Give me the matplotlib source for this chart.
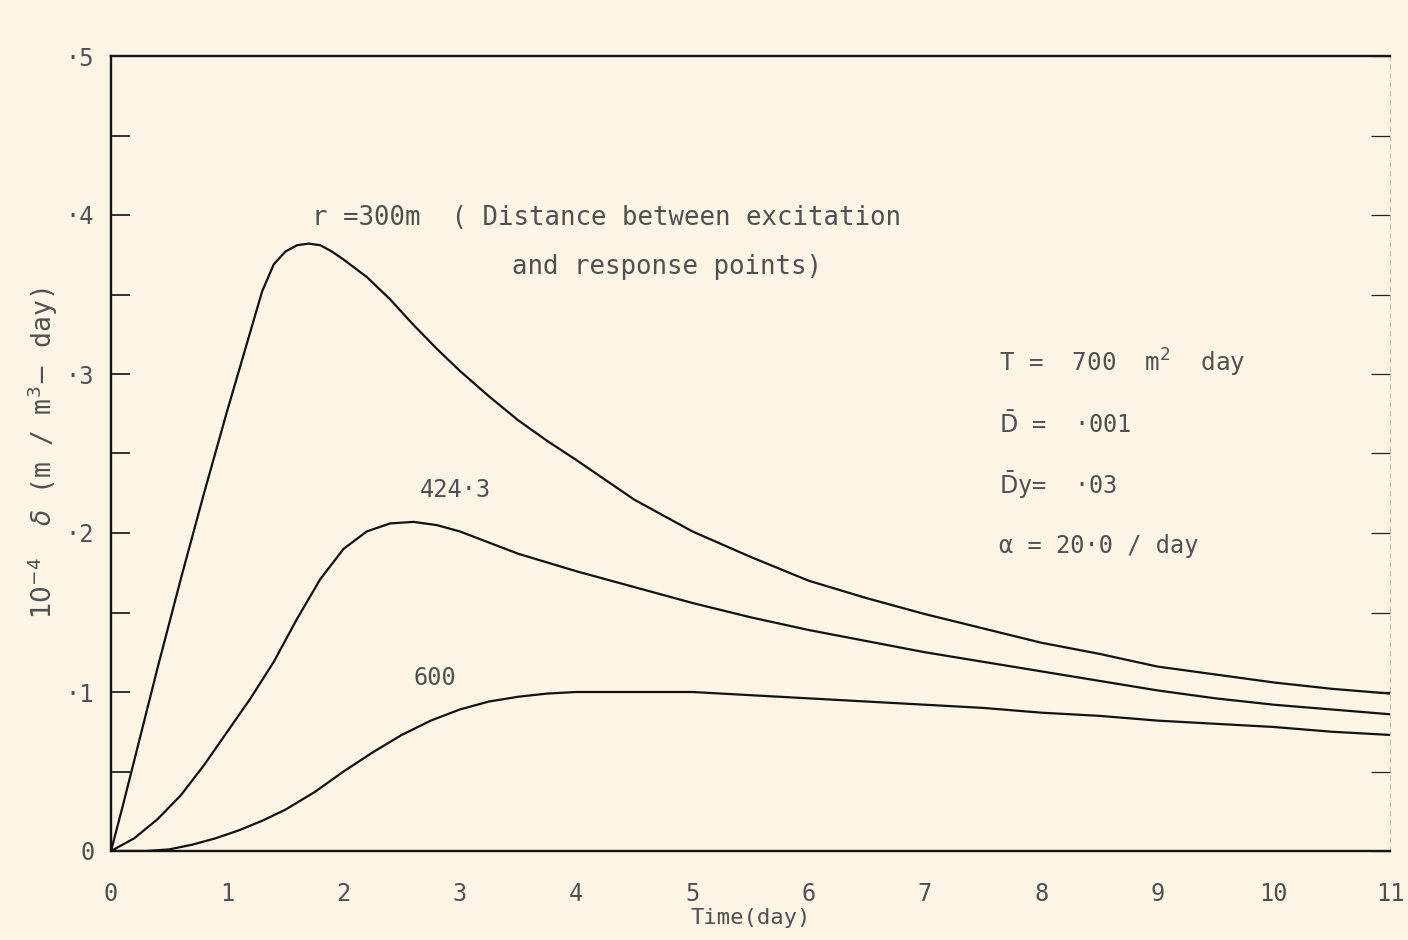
import matplotlib
matplotlib.use("Agg")
import matplotlib.pyplot as plt
from matplotlib.ticker import MultipleLocator

# ---- data ----
t300 = [0, 0.1, 0.2, 0.3, 0.4, 0.5, 0.6, 0.7, 0.8, 0.9, 1.0, 1.1, 1.2, 1.3,
        1.4, 1.5, 1.6, 1.7, 1.8, 1.9, 2.0, 2.2, 2.4, 2.6, 2.8, 3.0, 3.25, 3.5,
        3.75, 4.0, 4.5, 5.0, 5.5, 6.0, 6.5, 7.0, 7.5, 8.0, 8.5, 9.0, 9.5, 10.0,
        10.5, 11.0]
v300 = [0, 0.028, 0.057, 0.086, 0.115, 0.143, 0.171, 0.198, 0.225, 0.251,
        0.277, 0.302, 0.327, 0.352, 0.369, 0.377, 0.381, 0.382, 0.381, 0.377,
        0.372, 0.361, 0.347, 0.331, 0.316, 0.302, 0.286, 0.271, 0.258, 0.246,
        0.221, 0.201, 0.185, 0.170, 0.159, 0.149, 0.140, 0.131, 0.124, 0.116,
        0.111, 0.106, 0.102, 0.099]

t424 = [0, 0.2, 0.4, 0.6, 0.8, 1.0, 1.2, 1.4, 1.6, 1.8, 2.0, 2.2, 2.4, 2.6,
        2.8, 3.0, 3.25, 3.5, 4.0, 4.5, 5.0, 5.5, 6.0, 6.5, 7.0, 7.5, 8.0, 8.5,
        9.0, 9.5, 10.0, 10.5, 11.0]
v424 = [0, 0.008, 0.02, 0.035, 0.054, 0.075, 0.096, 0.119, 0.146, 0.171, 0.19,
        0.201, 0.206, 0.207, 0.205, 0.201, 0.194, 0.187, 0.176, 0.166, 0.156,
        0.147, 0.139, 0.132, 0.125, 0.119, 0.113, 0.107, 0.101, 0.096, 0.092,
        0.089, 0.086]

t600 = [0, 0.3, 0.5, 0.7, 0.9, 1.1, 1.3, 1.5, 1.75, 2.0, 2.25, 2.5, 2.75, 3.0,
        3.25, 3.5, 3.75, 4.0, 4.5, 5.0, 5.5, 6.0, 6.5, 7.0, 7.5, 8.0, 8.5, 9.0,
        9.5, 10.0, 10.5, 11.0]
v600 = [0, 0, 0.001, 0.004, 0.008, 0.013, 0.019, 0.026, 0.037, 0.05, 0.062,
        0.073, 0.082, 0.089, 0.094, 0.097, 0.099, 0.1, 0.1, 0.1, 0.098, 0.096,
        0.094, 0.092, 0.09, 0.087, 0.085, 0.082, 0.080, 0.078, 0.075, 0.073]

xticks = list(range(0, 12))
xticklabels = [str(i) for i in xticks]
yticks = [0, 0.1, 0.2, 0.3, 0.4, 0.5]
yticklabels = ["0", "\u00b71", "\u00b72", "\u00b73", "\u00b74", "\u00b75"]

bg = "#fcf4e4"
txt = "#505050"
FONT = "DejaVu Sans Mono"
plt.rcParams["font.family"] = [FONT, "DejaVu Sans"]
plt.rcParams["mathtext.fontset"] = "dejavusans"

fig = plt.figure(figsize=(14.08, 9.40), dpi=100, facecolor=bg)
ax = fig.add_axes([111/1408, 1 - 851/940, (1390-111)/1408, (851-56)/940])
ax.set_facecolor(bg)

for t, v in [(t300, v300), (t424, v424), (t600, v600)]:
    ax.plot(t, v, color="#121212", lw=1.6, solid_capstyle="round",
            solid_joinstyle="round")

ax.set_xlim(0, 11)
ax.set_ylim(0, 0.5)

ax.set_xticks(xticks)
ax.set_xticklabels(xticklabels, fontsize=17, color=txt)
ax.tick_params(axis="x", length=0, pad=22)

ax.set_yticks(yticks)
ax.set_yticklabels(yticklabels, fontsize=17, color=txt)
ax.yaxis.set_minor_locator(MultipleLocator(0.05))
ax.tick_params(axis="y", which="both", direction="in", length=14, width=1.3,
               color="#222222", pad=12, right=True)
for tk in ax.yaxis.get_major_ticks() + ax.yaxis.get_minor_ticks():
    tk.tick2line.set_color("#c8c0b0")
    tk.tick2line.set_markeredgewidth(0.9)

for s in ["left", "bottom", "top"]:
    ax.spines[s].set_color("#151515")
    ax.spines[s].set_linewidth(1.7)
ax.spines["right"].set_color("#c8c0b0")
ax.spines["right"].set_linewidth(0.8)
ax.spines["right"].set_linestyle((0, (4, 4)))

ax.set_xlabel("Time(day)", fontsize=16, color=txt, labelpad=2)
ax.set_ylabel(r"$10^{-4}$  $\delta$ (m / m$^3$$-$ day)", fontsize=19,
              color=txt, labelpad=4)

ax.text(1.73, 0.398, "r =300m  ( Distance between excitation", fontsize=18.5,
        color=txt, va="center", ha="left")
ax.text(3.45, 0.367, "and response points)", fontsize=18.5, color=txt,
        va="center", ha="left")
ax.text(2.66, 0.227, "424\u00b73", fontsize=17, color=txt, va="center", ha="left")
ax.text(2.6, 0.109, "600", fontsize=17, color=txt, va="center", ha="left")

ax.text(7.64, 0.307, "T =  700  m$^2$  day", fontsize=17.5, color=txt,
        va="center")
ax.text(7.64, 0.268, "$\\bar{\\mathrm{D}}$ =  \u00b7001", fontsize=17,
        color=txt, va="center")
ax.text(7.64, 0.230, "$\\bar{\\mathrm{D}}$y=  \u00b703", fontsize=17,
        color=txt, va="center")
ax.text(7.64, 0.192, "\u03b1 = 20\u00b70 / day", fontsize=17, color=txt,
        va="center")

fig.savefig("out.png", dpi=100, facecolor=bg)
